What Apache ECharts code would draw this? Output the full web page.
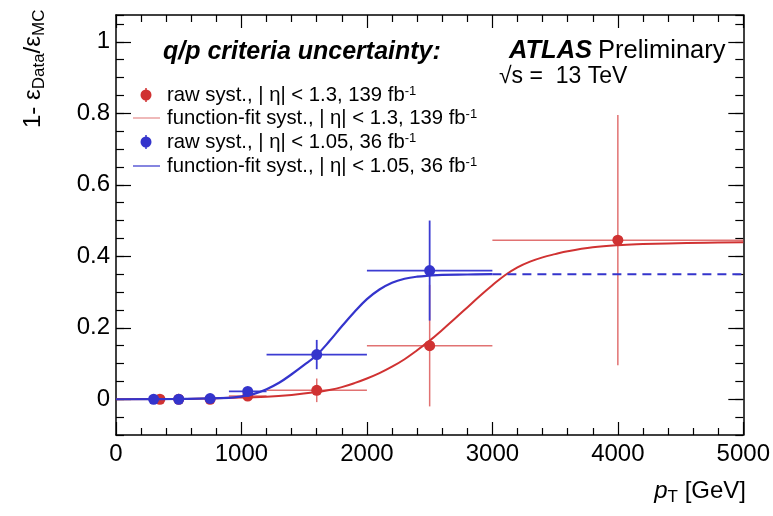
<!DOCTYPE html>
<html><head><meta charset="utf-8">
<script src="https://cdn.jsdelivr.net/npm/echarts@6/dist/echarts.min.js"></script>
<style>html,body{margin:0;padding:0;background:#fff}#c{width:773px;height:516px}</style>
</head><body><div id="c"></div>
<script>
// ---------- data ----------
const xTickValues = [0, 1000, 2000, 3000, 4000, 5000];
const xTickLabels = ['0', '1000', '2000', '3000', '4000', '5000'];
const yTickValues = [0, 0.2, 0.4, 0.6, 0.8, 1];
const yTickLabels = ['0', '0.2', '0.4', '0.6', '0.8', '1'];

// raw syst., |eta| < 1.3, 139 fb-1 (red)
const redX    = [350, 500, 750, 1050, 1600, 2500, 4000];
const redY    = [0.000, 0.000, 0.000, 0.009, 0.025, 0.150, 0.445];
const redXLo  = [350, 500, 750, 900, 1200, 2000, 3000];
const redXHi  = [350, 500, 750, 1200, 2000, 3000, 5000];
const redYErr = [0.002, 0.002, 0.002, 0.006, 0.033, 0.170, 0.350];

// raw syst., |eta| < 1.05, 36 fb-1 (blue)
const blueX    = [300, 500, 750, 1050, 1600, 2500];
const blueY    = [0.000, 0.000, 0.002, 0.022, 0.125, 0.360];
const blueXLo  = [300, 500, 750, 900, 1200, 2000];
const blueXHi  = [300, 500, 750, 1200, 2000, 3000];
const blueYErr = [0.002, 0.002, 0.003, 0.010, 0.041, 0.140];

// function-fit curves
const redFitX = [0, 500, 900, 1200, 1400, 1600, 1700, 1800, 1900, 2000, 2100, 2200, 2300, 2400, 2500, 2600, 2700, 2800, 2900, 3000, 3100, 3200, 3300, 3400, 3500, 3600, 3800, 4000, 4200, 4400, 4700, 5000];
const redFitY = [0.000, 0.001, 0.004, 0.007, 0.012, 0.020, 0.026, 0.034, 0.045, 0.058, 0.073, 0.091, 0.112, 0.137, 0.164, 0.194, 0.225, 0.257, 0.289, 0.319, 0.347, 0.369, 0.385, 0.397, 0.406, 0.414, 0.425, 0.431, 0.434, 0.436, 0.438, 0.439];
const blueFitX = [0, 500, 900, 1000, 1100, 1200, 1300, 1400, 1500, 1600, 1700, 1800, 1900, 2000, 2100, 2200, 2300, 2400, 2500, 2600, 2800, 3000];
const blueFitY = [0.000, 0.001, 0.004, 0.008, 0.015, 0.028, 0.046, 0.070, 0.096, 0.124, 0.162, 0.204, 0.244, 0.280, 0.307, 0.326, 0.337, 0.343, 0.346, 0.348, 0.349, 0.350];
const blueExtX = [3000, 5000];
const blueExtY = [0.350, 0.350];

const X_MIN = 0, X_MAX = 5000, Y_MIN = -0.1, Y_MAX = 1.075;

// ---------- style ----------
const FONT = '"Liberation Sans", Arial, Helvetica, sans-serif';
const RED = '#d03232', RED_ERR = 'rgba(214,60,60,0.72)', RED_LEG = '#e48a8a';
const BLUE = '#3434cc', BLUE_ERR = '#3c3cd2';

function zip(a, b) { return a.map((v, i) => [v, b[i]]); }
function errData(x, y, xl, xh, ye) {
  return x.map((v, i) => [v, y[i], xl[i], xh[i], y[i] - ye[i], y[i] + ye[i]]);
}
function errRender(color, width) {
  return function (params, api) {
    const x = api.value(0), y = api.value(1);
    const pL = api.coord([api.value(2), y]), pR = api.coord([api.value(3), y]);
    const pB = api.coord([x, api.value(4)]), pT = api.coord([x, api.value(5)]);
    return { type: 'group', children: [
      { type: 'line', shape: { x1: pL[0], y1: pL[1], x2: pR[0], y2: pR[1] }, style: { stroke: color, lineWidth: width } },
      { type: 'line', shape: { x1: pB[0], y1: pB[1], x2: pT[0], y2: pT[1] }, style: { stroke: color, lineWidth: width } }
    ]};
  };
}
function labelOf(vals, labs) {
  return v => { const i = vals.findIndex(t => Math.abs(t - v) < 1e-9); return i >= 0 ? labs[i] : ''; };
}

const axLine = { show: true, onZero: false, lineStyle: { color: '#000', width: 1.5 } };
function xAx(pos, showLab) {
  return {
    type: 'value', position: pos, min: X_MIN, max: X_MAX, interval: 1000,
    axisLine: axLine,
    axisTick: { show: true, inside: true, length: 13, lineStyle: { color: '#000', width: 1.2 } },
    minorTick: { show: true, splitNumber: 5, length: 7, lineStyle: { color: '#000', width: 1.2 } },
    axisLabel: { show: showLab, margin: 7, color: '#000', fontSize: 24, fontFamily: FONT,
      customValues: xTickValues, formatter: labelOf(xTickValues, xTickLabels) },
    splitLine: { show: false }
  };
}
function yMinor(pos, showLab) {
  return {
    type: 'value', position: pos, min: Y_MIN, max: Y_MAX, interval: 0.05,
    axisLine: axLine,
    axisTick: { show: true, inside: true, length: 8, lineStyle: { color: '#000', width: 1.2 } },
    axisLabel: { show: showLab, margin: 6, color: '#000', fontSize: 24, fontFamily: FONT,
      customValues: yTickValues, formatter: labelOf(yTickValues, yTickLabels) },
    splitLine: { show: false }
  };
}
function yMajor(pos) {
  return {
    type: 'value', position: pos, min: Y_MIN, max: Y_MAX,
    axisLine: { show: false, onZero: false },
    axisTick: { show: true, inside: true, length: 15, customValues: yTickValues, lineStyle: { color: '#000', width: 1.2 } },
    axisLabel: { show: false },
    splitLine: { show: false }
  };
}

const chart = echarts.init(document.getElementById('c'), null, { renderer: 'canvas' });
const legY = [95, 118, 142, 166];
const legTexts = [
  'raw syst., | η| < 1.3, 139 fb{s|-1}',
  'function-fit syst., | η| < 1.3, 139 fb{s|-1}',
  'raw syst., | η| < 1.05, 36 fb{s|-1}',
  'function-fit syst., | η| < 1.05, 36 fb{s|-1}'
];
const supRich = { s: { fontSize: 13, fontFamily: FONT, verticalAlign: 'top', fill: '#000' } };
const graphics = [
  { type: 'text', x: 163, y: 52, style: { text: 'q/p criteria uncertainty:', fill: '#000', font: 'italic bold 25px ' + FONT, verticalAlign: 'middle' } },
  { type: 'text', x: 509, y: 51, style: { text: 'ATLAS', fill: '#000', font: 'italic bold 25.5px ' + FONT, verticalAlign: 'middle' } },
  { type: 'text', x: 598, y: 51, style: { text: 'Preliminary', fill: '#000', font: '25.5px ' + FONT, verticalAlign: 'middle' } },
  { type: 'text', x: 499, y: 77, style: { text: '√s =  13 TeV', fill: '#000', font: '23px ' + FONT, verticalAlign: 'middle' } },
  // y axis title
  { type: 'text', x: 33, y: 128, rotation: Math.PI / 2, style: { text: '{m|1- ε}{d|Data}{m|/ε}{d|MC}', align: 'left', verticalAlign: 'middle',
      rich: { m: { fontSize: 24, fontFamily: FONT, fill: '#000', lineHeight: 30 }, d: { fontSize: 17, fontFamily: FONT, fill: '#000', verticalAlign: 'bottom', lineHeight: 30 } } } },
  // x axis title
  { type: 'text', x: 746, y: 491, style: { text: '{i|p}{d|T}{m| [GeV]}', align: 'right', verticalAlign: 'middle',
      rich: { i: { font: 'italic 24px ' + FONT, fill: '#000', lineHeight: 30 }, d: { fontSize: 17, fontFamily: FONT, fill: '#000', verticalAlign: 'bottom', lineHeight: 30 }, m: { fontSize: 24, fontFamily: FONT, fill: '#000', lineHeight: 30 } } } }
];
// legend markers / lines
[[RED, 0], [BLUE, 2]].forEach(([c, k]) => {
  graphics.push({ type: 'line', shape: { x1: 146, y1: legY[k] - 7, x2: 146, y2: legY[k] + 7 }, style: { stroke: c, lineWidth: 1.5 } });
  graphics.push({ type: 'circle', shape: { cx: 146, cy: legY[k], r: 5.5 }, style: { fill: c } });
});
graphics.push({ type: 'line', shape: { x1: 133, y1: legY[1], x2: 160, y2: legY[1] }, style: { stroke: RED_LEG, lineWidth: 1.2 } });
graphics.push({ type: 'line', shape: { x1: 133, y1: legY[3], x2: 160, y2: legY[3] }, style: { stroke: BLUE, lineWidth: 1.2 } });
legTexts.forEach((t, k) => {
  graphics.push({ type: 'text', x: 167, y: legY[k], style: { text: t, fill: '#000', fontSize: 20.3, fontFamily: FONT, verticalAlign: 'middle', rich: supRich } });
});

chart.setOption({
  animation: false,
  backgroundColor: '#fff',
  grid: { left: 116, right: 27, top: 15, bottom: 81, containLabel: false },
  xAxis: [xAx('bottom', true), xAx('top', false)],
  yAxis: [yMinor('left', true), yMajor('left'), yMinor('right', false), yMajor('right')],
  series: [
    { type: 'custom', name: 'redErr', renderItem: errRender(RED_ERR, 1.5), data: errData(redX, redY, redXLo, redXHi, redYErr), z: 2 },
    { type: 'scatter', name: 'redPts', data: zip(redX, redY), symbolSize: 11, itemStyle: { color: RED, opacity: 1 }, z: 3 },
    { type: 'line', name: 'redFit', data: zip(redFitX, redFitY), smooth: 0.4, showSymbol: false, lineStyle: { color: RED, width: 2 }, z: 4 },
    { type: 'custom', name: 'blueErr', renderItem: errRender(BLUE_ERR, 1.8), data: errData(blueX, blueY, blueXLo, blueXHi, blueYErr), z: 5 },
    { type: 'scatter', name: 'bluePts', data: zip(blueX, blueY), symbolSize: 11, itemStyle: { color: BLUE, opacity: 1 }, z: 6 },
    { type: 'line', name: 'blueFit', data: zip(blueFitX, blueFitY), smooth: 0.4, showSymbol: false, lineStyle: { color: BLUE, width: 2.2 }, z: 7 },
    { type: 'line', name: 'blueExt', data: zip(blueExtX, blueExtY), showSymbol: false, lineStyle: { color: BLUE, width: 2, type: [9, 6] }, z: 7 }
  ],
  graphic: graphics
});
</script>
</body></html>
